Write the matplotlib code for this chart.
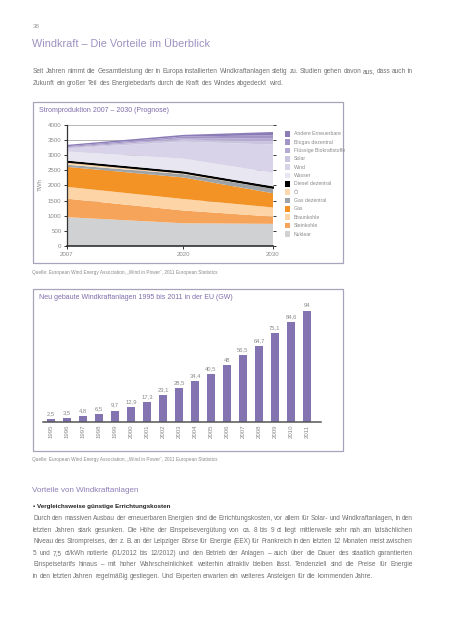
import matplotlib
matplotlib.use("Agg")
import matplotlib.pyplot as plt
from matplotlib.patches import Rectangle

FONT = "Liberation Sans"
plt.rcParams['font.family'] = [FONT, 'DejaVu Sans']

W, H = 453, 640

# ---------------- data: Stromproduktion ----------------
years = [2007, 2020, 2030]
sources = ["Nuklear", "Steinkohle", "Braunkohle", "Gas", "Gas dezentral", "Öl",
           "Diesel dezentral", "Wasser", "Wind", "Solar",
           "Flüssige Biokraftstoffe", "Biogas dezentral", "Andere Erneuerbare"]
nuklear = [950, 750, 730]
steinkohle = [610, 420, 240]
braunkohle = [390, 380, 300]
gas = [660, 710, 470]
gas_dez = [70, 110, 150]
oel = [100, 50, 30]
diesel = [35, 40, 45]
wasser = [300, 420, 450]
wind = [100, 560, 930]
solar = [20, 70, 105]
biokraft = [25, 50, 90]
biogas = [30, 50, 110]
andere = [45, 55, 110]
series = [nuklear, steinkohle, braunkohle, gas, gas_dez, oel, diesel,
          wasser, wind, solar, biokraft, biogas, andere]
colors = ["#d0d1d3", "#f6a45a", "#fdd4a6", "#f39325", "#9ea3a8", "#fbd8ae",
          "#000000", "#e8e6f1", "#d8d3e8", "#cbc4df", "#b5aad2", "#a295c6", "#8b7cb8"]
y_ticks = [0, 500, 1000, 1500, 2000, 2500, 3000, 3500, 4000]

# ---------------- data: Windkraft ----------------
bar_years = ["1995", "1996", "1997", "1998", "1999", "2000", "2001", "2002", "2003",
             "2004", "2005", "2006", "2007", "2008", "2009", "2010", "2011"]
bar_values = [2.5, 3.5, 4.8, 6.5, 9.7, 12.9, 17.3, 23.1, 28.5, 34.4, 40.5, 48,
              56.5, 64.7, 75.1, 84.6, 94]

fig = plt.figure(figsize=(W / 100, H / 100), dpi=100)


def fx(x):
    return x / W


def fy(y):
    return 1 - y / H


def ftext(x, y, s, **kw):
    kw.setdefault("family", [FONT, "DejaVu Sans"])
    return fig.text(fx(x), fy(y), s, **kw)


def box(x0, y0, x1, y1, color="#a8a2bb", lw=0.9):
    fig.add_artist(Rectangle((fx(x0), fy(y1)), fx(x1) - fx(x0), fy(y0) - fy(y1),
                             transform=fig.transFigure, fill=False,
                             edgecolor=color, linewidth=lw))


renderer = fig.canvas.get_renderer()


def justify(x0, x1, y, text, size, color, justify_line=True):
    """Place words of one line; y is the visual centre of the line (px)."""
    yb = y + 2.1
    words = text.split(" ")
    arts = []
    widths = []
    for w in words:
        t = ftext(x0, yb, w, fontsize=size, color=color, va="baseline", ha="left")
        arts.append(t)
        widths.append(t.get_window_extent(renderer).width)
    total = sum(widths)
    if justify_line and len(words) > 1:
        gap = (x1 - x0 - total) / (len(words) - 1)
    else:
        sp = ftext(0, 0, "a a", fontsize=size)
        sp2 = ftext(0, 0, "aa", fontsize=size)
        gap = sp.get_window_extent(renderer).width - sp2.get_window_extent(renderer).width
        sp.remove()
        sp2.remove()
    x = x0
    for t, w in zip(arts, widths):
        t.set_x(fx(x))
        x += w + gap


TXT = "#707070"

# header
ftext(33, 27, "38", fontsize=4.5, color="#999999", va="center")
ftext(32, 44, "Windkraft – Die Vorteile im Überblick", fontsize=7.8, color="#9d90c0",
      va="center")
justify(33, 413, 71, "Seit Jahren nimmt die Gesamtleistung der in Europa installierten "
        "Windkraftanlagen stetig zu. Studien gehen davon aus, dass auch in", 4.7, TXT)
justify(33, 413, 83, "Zukunft ein großer Teil des Energiebedarfs durch die Kraft des "
        "Windes abgedeckt wird.", 4.7, TXT, justify_line=False)

# ---------------- chart 1 ----------------
box(33, 102, 343, 263)
ftext(39, 110, "Stromproduktion 2007 – 2030 (Prognose)", fontsize=5.0, color="#7e6cab",
      va="center")

ax1 = fig.add_axes([fx(67), fy(246), fx(273) - fx(67), fy(124.7) - fy(246)])
polys = ax1.stackplot(years, *series, colors=colors, linewidth=0, zorder=2)
polys[6].set_edgecolor("#000000")
polys[6].set_linewidth(0.8)
ax1.set_xlim(2007, 2030)
ax1.set_ylim(0, 4000)
ax1.set_yticks(y_ticks)
ax1.set_yticklabels([str(v) for v in y_ticks])
ax1.set_xticks(years)
ax1.grid(axis="y", color="#b5b5b5", linewidth=0.7, zorder=0)
ax1.set_axisbelow(True)
for s in ["top", "right"]:
    ax1.spines[s].set_visible(False)
ax1.spines["left"].set_color("#333333")
ax1.spines["left"].set_linewidth(0.9)
ax1.spines["bottom"].set_color("#222222")
ax1.spines["bottom"].set_linewidth(1.1)
ax1.tick_params(axis="y", length=2, width=0.7, color="#333333", labelsize=4.4,
                labelcolor="#8a8a8a", pad=2, right=True)
ax1.tick_params(axis="x", length=2, width=0.7, color="#333333", labelsize=4.4,
                labelcolor="#8a8a8a", pad=2.5)
for lab in ax1.get_xticklabels() + ax1.get_yticklabels():
    lab.set_family([FONT])
ftext(40, 185, "TWh", fontsize=4.4, color="#8a8a8a", rotation=90, va="center",
      ha="center")

# legend (manual)
leg_y0, leg_dy = 133.7, 8.36
for i, (name, col) in enumerate(zip(sources[::-1], colors[::-1])):
    yy = leg_y0 + i * leg_dy
    fig.add_artist(Rectangle((fx(284.5), fy(yy + 2.8)), 5.8 / W, 5.6 / H,
                             transform=fig.transFigure, facecolor=col, edgecolor="none"))
    ftext(293.5, yy, name, fontsize=3.7, color="#8a8a8a", va="center")

ftext(32, 272.5, "Quelle: European Wind Energy Association, „Wind in Power“, "
      "2011 European Statistics", fontsize=3.4, color="#8a8a8a", va="center")

# ---------------- chart 2 ----------------
box(33, 289, 343, 451)
ftext(39, 297.5, "Neu gebaute Windkraftanlagen 1995 bis 2011 in der EU (GW)",
      fontsize=5.0, color="#7e6cab", va="center")

ax2 = fig.add_axes([fx(42.7), fy(422), fx(320.7) - fx(42.7), fy(304) - fy(422)])
idx = list(range(len(bar_values)))
bars = ax2.bar(idx, bar_values, width=0.5, color="#8373b1", zorder=2)
ax2.set_xlim(-0.52, 16.86)
ax2.set_ylim(0, 100)
ax2.set_yticks([])
ax2.set_xticks(idx)
ax2.set_xticklabels(bar_years, rotation=90, fontsize=4.4, color="#8a8a8a")
ax2.tick_params(axis="x", length=0, pad=2)
for s in ["top", "right", "left"]:
    ax2.spines[s].set_visible(False)
ax2.spines["bottom"].set_color("#555555")
ax2.spines["bottom"].set_linewidth(1.1)
ax2.patch.set_alpha(0)
labels = [(str(int(v)) if float(v).is_integer() else str(v).replace(".", ","))
          for v in bar_values]
ax2.bar_label(bars, labels=labels, padding=2, fontsize=4.2, color="#8a8a8a")

ftext(32, 460, "Quelle: European Wind Energy Association, „Wind in Power“, "
      "2011 European Statistics", fontsize=3.4, color="#8a8a8a", va="center")

# ---------------- text section ----------------
ftext(32, 490, "Vorteile von Windkraftanlagen", fontsize=5.8, color="#8d7fb8", va="center")
ftext(33, 506.7, "• Vergleichsweise günstige Errichtungskosten", fontsize=4.5,
      color="#222222", weight="bold", va="center")
body = [
    "Durch den massiven Ausbau der erneuerbaren Energien sind die Errichtungskosten, vor allem für Solar- und Windkraftanlagen, in den",
    "letzten Jahren stark gesunken. Die Höhe der Einspeisevergütung von ca. 8 bis 9 ct liegt mittlerweile sehr nah am tatsächlichen",
    "Niveau des Strompreises, der z. B. an der Leipziger Börse für Energie (EEX) für Frankreich in den letzten 12 Monaten meist zwischen",
    "5 und 7,5 ct/kWh notierte (01/2012 bis 12/2012) und den Betrieb der Anlagen – auch über die Dauer des staatlich garantierten",
    "Einspeisetarifs hinaus – mit hoher Wahrscheinlichkeit weiterhin attraktiv bleiben lässt. Tendenziell sind die Preise für Energie",
    "in den letzten Jahren regelmäßig gestiegen. Und Experten erwarten ein weiteres Ansteigen für die kommenden Jahre.",
]
for i, line in enumerate(body):
    justify(33, 413, 518 + i * 11.55, line, 4.7, TXT, justify_line=(i < len(body) - 1))

fig.savefig("out.png", dpi=100)
